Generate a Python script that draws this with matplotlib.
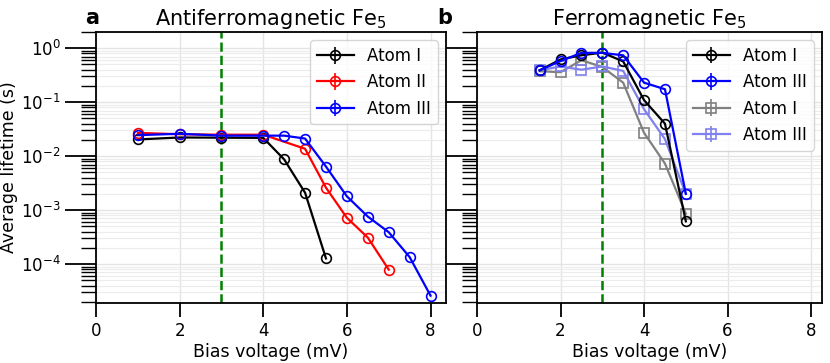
import matplotlib
matplotlib.use("Agg")
import matplotlib.pyplot as plt
import numpy as np
from matplotlib.ticker import LogLocator, NullFormatter

# ---- data: Antiferromagnetic Fe5 ----
afm_x1 = [1, 2, 3, 4, 4.5, 5, 5.5]
afm_y1 = [0.0204, 0.0222, 0.022, 0.0218, 0.0087, 0.0021, 1.27e-4]
afm_x2 = [1, 2, 3, 4, 5, 5.5, 6, 6.5, 7]
afm_y2 = [0.027, 0.0255, 0.025, 0.025, 0.0137, 0.0026, 7.2e-4, 3.1e-4, 7.9e-5]
afm_x3 = [1, 2, 3, 4, 4.5, 5, 5.5, 6, 6.5, 7, 7.5, 8]
afm_y3 = [0.0245, 0.026, 0.024, 0.024, 0.024, 0.0212, 0.0064, 0.0018, 7.6e-4, 3.9e-4, 1.35e-4, 2.6e-5]

# ---- data: Ferromagnetic Fe5 ----
fm_x = [1.5, 2, 2.5, 3, 3.5, 4, 4.5, 5]
fm_y1 = [0.39, 0.62, 0.74, 0.83, 0.57, 0.109, 0.040, 6.2e-4]
fm_y3 = [0.39, 0.58, 0.82, 0.82, 0.74, 0.23, 0.174, 0.0020]
fm_y1b = [0.375, 0.36, 0.60, 0.45, 0.23, 0.027, 0.0073, 8.6e-4]
fm_y3b = [0.39, 0.46, 0.40, 0.46, 0.38, 0.074, 0.0207, 0.0020]

labels_afm = ["Atom I", "Atom II", "Atom III"]
labels_fm = ["Atom I", "Atom III", "Atom I", "Atom III"]
vline_x = 3

plt.rcParams['font.family'] = ['DejaVu Sans']
fig = plt.figure(figsize=(8.3, 3.63), dpi=100)
axL = fig.add_axes([96/830, 1-303/363, 350/830, 271/363])
axR = fig.add_axes([477/830, 1-303/363, 345/830, 271/363])

lw = 1.6
ms = 7
mew = 1.2

def series(ax, x, y, color, marker, label):
    ax.errorbar(x, y, yerr=np.zeros(len(y)), color=color, marker=marker, ms=ms,
                mfc='none', mew=mew, lw=lw, label=label, capsize=0, elinewidth=1.2)

series(axL, afm_x1, afm_y1, 'black', 'o', labels_afm[0])
series(axL, afm_x2, afm_y2, 'red', 'o', labels_afm[1])
series(axL, afm_x3, afm_y3, 'blue', 'o', labels_afm[2])

series(axR, fm_x, fm_y1b, 'gray', 's', labels_fm[2])
series(axR, fm_x, fm_y3b, '#8080ee', 's', labels_fm[3])
series(axR, fm_x, fm_y1, 'black', 'o', labels_fm[0])
series(axR, fm_x, fm_y3, 'blue', 'o', labels_fm[1])

for ax, xmax in ((axL, 8.37), (axR, 8.26)):
    ax.set_yscale('log')
    ax.set_ylim(1.9e-5, 2.0)
    ax.set_xlim(0, xmax)
    ax.set_xticks([0, 2, 4, 6, 8])
    ax.yaxis.set_major_locator(LogLocator(base=10, numticks=10))
    ax.yaxis.set_minor_locator(LogLocator(base=10, subs=np.arange(2, 10), numticks=20))
    ax.yaxis.set_minor_formatter(NullFormatter())
    ax.axvline(vline_x, color='green', ls='--', lw=1.8, zorder=1)
    ax.grid(True, which='major', color='#e4e4e4', lw=1.0, zorder=0)
    ax.grid(True, which='minor', axis='y', color='#ececec', lw=0.8, zorder=0)
    ax.set_axisbelow(True)
    ax.tick_params(axis='y', which='major', length=22, width=1.3, labelsize=12, direction='out')
    ax.tick_params(axis='y', which='minor', length=11, width=1.0, direction='out')
    ax.tick_params(axis='x', which='major', length=10, width=1.3, labelsize=12, direction='out')
    for s in ax.spines.values():
        s.set_linewidth(1.3)
    ax.set_xlabel('Bias voltage (mV)', fontsize=12.5, labelpad=2)

axR.tick_params(axis='y', which='both', labelleft=False)
axL.set_ylabel('Average lifetime (s)', fontsize=12.5, labelpad=2)

axL.set_title('Antiferromagnetic Fe$_5$', fontsize=15, pad=5)
axR.set_title('Ferromagnetic Fe$_5$', fontsize=15, pad=5)
fig.text(85/830, 1-24/363, 'a', fontsize=15, fontweight='bold')
fig.text(437/830, 1-24/363, 'b', fontsize=15, fontweight='bold')

legL = axL.legend(loc='upper right', fontsize=12, handlelength=2.2, borderaxespad=0.5)
hR, lR = axR.get_legend_handles_labels()
order = [2, 3, 0, 1]
axR.legend([hR[i] for i in order], [lR[i] for i in order], loc='upper right',
           fontsize=12, handlelength=2.2, borderaxespad=0.5)

fig.savefig('out.png', dpi=100)
